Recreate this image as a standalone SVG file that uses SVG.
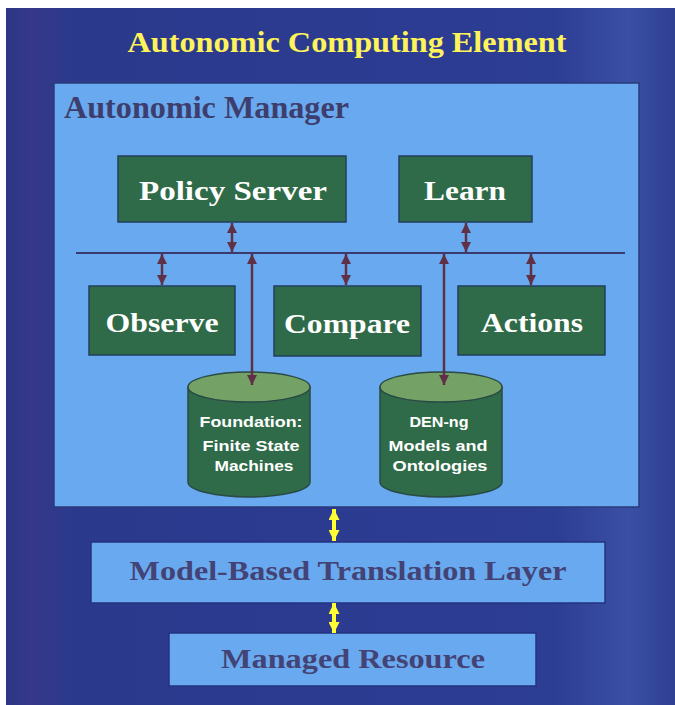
<svg xmlns="http://www.w3.org/2000/svg" width="675" height="705" viewBox="0 0 675 705">
  <defs>
    <linearGradient id="bgGrad" x1="0" y1="0" x2="1" y2="0">
      <stop offset="0" stop-color="#2d3686"/>
      <stop offset="0.04" stop-color="#36388a"/>
      <stop offset="0.1" stop-color="#2b398c"/>
      <stop offset="0.82" stop-color="#2c3d94"/>
      <stop offset="0.93" stop-color="#3a50a4"/>
      <stop offset="1" stop-color="#2f3f92"/>
    </linearGradient>
    <marker id="ah" viewBox="0 0 10 10" refX="10" refY="5" markerWidth="10" markerHeight="10" markerUnits="userSpaceOnUse" orient="auto-start-reverse">
      <path d="M0,0 L10,5 L0,10 z" fill="#5f3046"/>
    </marker>
    <marker id="ahY" viewBox="0 0 10 10" refX="10" refY="5" markerWidth="11" markerHeight="11" markerUnits="userSpaceOnUse" orient="auto-start-reverse">
      <path d="M0,0 L10,5 L0,10 z" fill="#ffff33"/>
    </marker>
  </defs>
  <style>
    .title { font-family: "Liberation Serif", "Times New Roman", serif; font-weight: bold; }
    .box { fill: #2f6b48; stroke: #223f5e; stroke-width: 1.5; }
    .boxText { font-family: "Liberation Serif", "Times New Roman", serif; font-weight: bold; font-size: 28px; fill: #ffffff; text-anchor: middle; }
    .layer { fill: #69a9f0; stroke: #233380; stroke-width: 1.5; }
    .layerText { font-family: "Liberation Serif", "Times New Roman", serif; font-weight: bold; font-size: 28px; fill: #434375; text-anchor: middle; }
    .cylBody { fill: #2f6b48; stroke: #2a4a45; stroke-width: 1.5; }
    .cylTop { fill: #74a266; stroke: #2a4a45; stroke-width: 1.5; }
    .cylText { font-family: "Liberation Sans", Arial, sans-serif; font-weight: bold; font-size: 15px; fill: #ffffff; text-anchor: middle; }
    .link { stroke: #5f3046; stroke-width: 2.5; fill: none; }
    .bus { stroke: #3a3a6e; stroke-width: 2; fill: none; }
    .linkY { stroke: #ffff33; stroke-width: 4; fill: none; }
  </style>

  <!-- page background and outer element frame -->
  <rect x="0" y="0" width="675" height="705" fill="#ffffff"/>
  <rect x="6" y="8" width="669" height="697" fill="url(#bgGrad)"/>

  <text class="title" x="347" y="52" font-size="30" fill="#fff35a" text-anchor="middle" textLength="439" lengthAdjust="spacingAndGlyphs">Autonomic Computing Element</text>

  <!-- manager panel -->
  <g id="autonomic-manager">
    <rect x="54" y="83" width="585" height="424" fill="#69a9f0" stroke="#2a3a7a" stroke-width="1.5"/>
    <text class="title" x="64" y="118" font-size="31" fill="#3d3e6e" textLength="285" lengthAdjust="spacingAndGlyphs">Autonomic Manager</text>
  </g>

  <g id="policy-server">
    <rect class="box" x="118" y="156" width="228" height="66"/>
    <text class="boxText" x="233" y="200" textLength="188" lengthAdjust="spacingAndGlyphs">Policy Server</text>
  </g>
  <g id="learn">
    <rect class="box" x="399" y="156" width="133" height="66"/>
    <text class="boxText" x="465" y="200" textLength="82" lengthAdjust="spacingAndGlyphs">Learn</text>
  </g>
  <g id="observe">
    <rect class="box" x="89" y="286" width="146" height="69"/>
    <text class="boxText" x="162" y="332" textLength="113" lengthAdjust="spacingAndGlyphs">Observe</text>
  </g>
  <g id="compare">
    <rect class="box" x="274" y="286" width="147" height="70"/>
    <text class="boxText" x="347" y="333" textLength="126" lengthAdjust="spacingAndGlyphs">Compare</text>
  </g>
  <g id="actions">
    <rect class="box" x="458" y="286" width="147" height="69"/>
    <text class="boxText" x="532" y="332" textLength="102" lengthAdjust="spacingAndGlyphs">Actions</text>
  </g>

  <g id="foundation-fsm">
    <path class="cylBody" d="M188,387 V482 A61,15 0 0 0 310,482 V387 Z"/>
    <ellipse class="cylTop" cx="249" cy="387" rx="61" ry="15"/>
    <text class="cylText" x="251" y="427" textLength="103" lengthAdjust="spacingAndGlyphs">Foundation:</text>
    <text class="cylText" x="251" y="451" textLength="97" lengthAdjust="spacingAndGlyphs">Finite State</text>
    <text class="cylText" x="254" y="471" textLength="79" lengthAdjust="spacingAndGlyphs">Machines</text>
  </g>
  <g id="den-ng-models">
    <path class="cylBody" d="M380,387 V482 A61,15 0 0 0 502,482 V387 Z"/>
    <ellipse class="cylTop" cx="441" cy="387" rx="61" ry="15"/>
    <text class="cylText" x="439" y="427" textLength="59" lengthAdjust="spacingAndGlyphs">DEN-ng</text>
    <text class="cylText" x="438" y="451" textLength="99" lengthAdjust="spacingAndGlyphs">Models and</text>
    <text class="cylText" x="440" y="471" textLength="95" lengthAdjust="spacingAndGlyphs">Ontologies</text>
  </g>

  <g id="translation-layer">
    <rect class="layer" x="91" y="542" width="514" height="61"/>
    <text class="layerText" x="348" y="580" textLength="437" lengthAdjust="spacingAndGlyphs">Model-Based Translation Layer</text>
  </g>
  <g id="managed-resource">
    <rect class="layer" x="169" y="633" width="367" height="53"/>
    <text class="layerText" x="353" y="668" textLength="264" lengthAdjust="spacingAndGlyphs">Managed Resource</text>
  </g>

  <!-- connectors: shared bus, double-headed links, and the yellow layer links -->
  <g id="connectors">
    <line class="bus" x1="76" y1="253" x2="625" y2="253"/>
    <line class="link" x1="232" y1="223" x2="232" y2="252" marker-start="url(#ah)" marker-end="url(#ah)"/>
    <line class="link" x1="466" y1="223" x2="466" y2="252" marker-start="url(#ah)" marker-end="url(#ah)"/>
    <line class="link" x1="162" y1="254" x2="162" y2="285" marker-start="url(#ah)" marker-end="url(#ah)"/>
    <line class="link" x1="346" y1="254" x2="346" y2="285" marker-start="url(#ah)" marker-end="url(#ah)"/>
    <line class="link" x1="531" y1="254" x2="531" y2="285" marker-start="url(#ah)" marker-end="url(#ah)"/>
    <line class="link" x1="252" y1="254" x2="252" y2="385" marker-start="url(#ah)" marker-end="url(#ah)"/>
    <line class="link" x1="444" y1="254" x2="444" y2="385" marker-start="url(#ah)" marker-end="url(#ah)"/>
    <line class="linkY" x1="334" y1="509" x2="334" y2="541" marker-start="url(#ahY)" marker-end="url(#ahY)"/>
    <line class="linkY" x1="334" y1="603" x2="334" y2="633" marker-start="url(#ahY)" marker-end="url(#ahY)"/>
  </g>
</svg>
